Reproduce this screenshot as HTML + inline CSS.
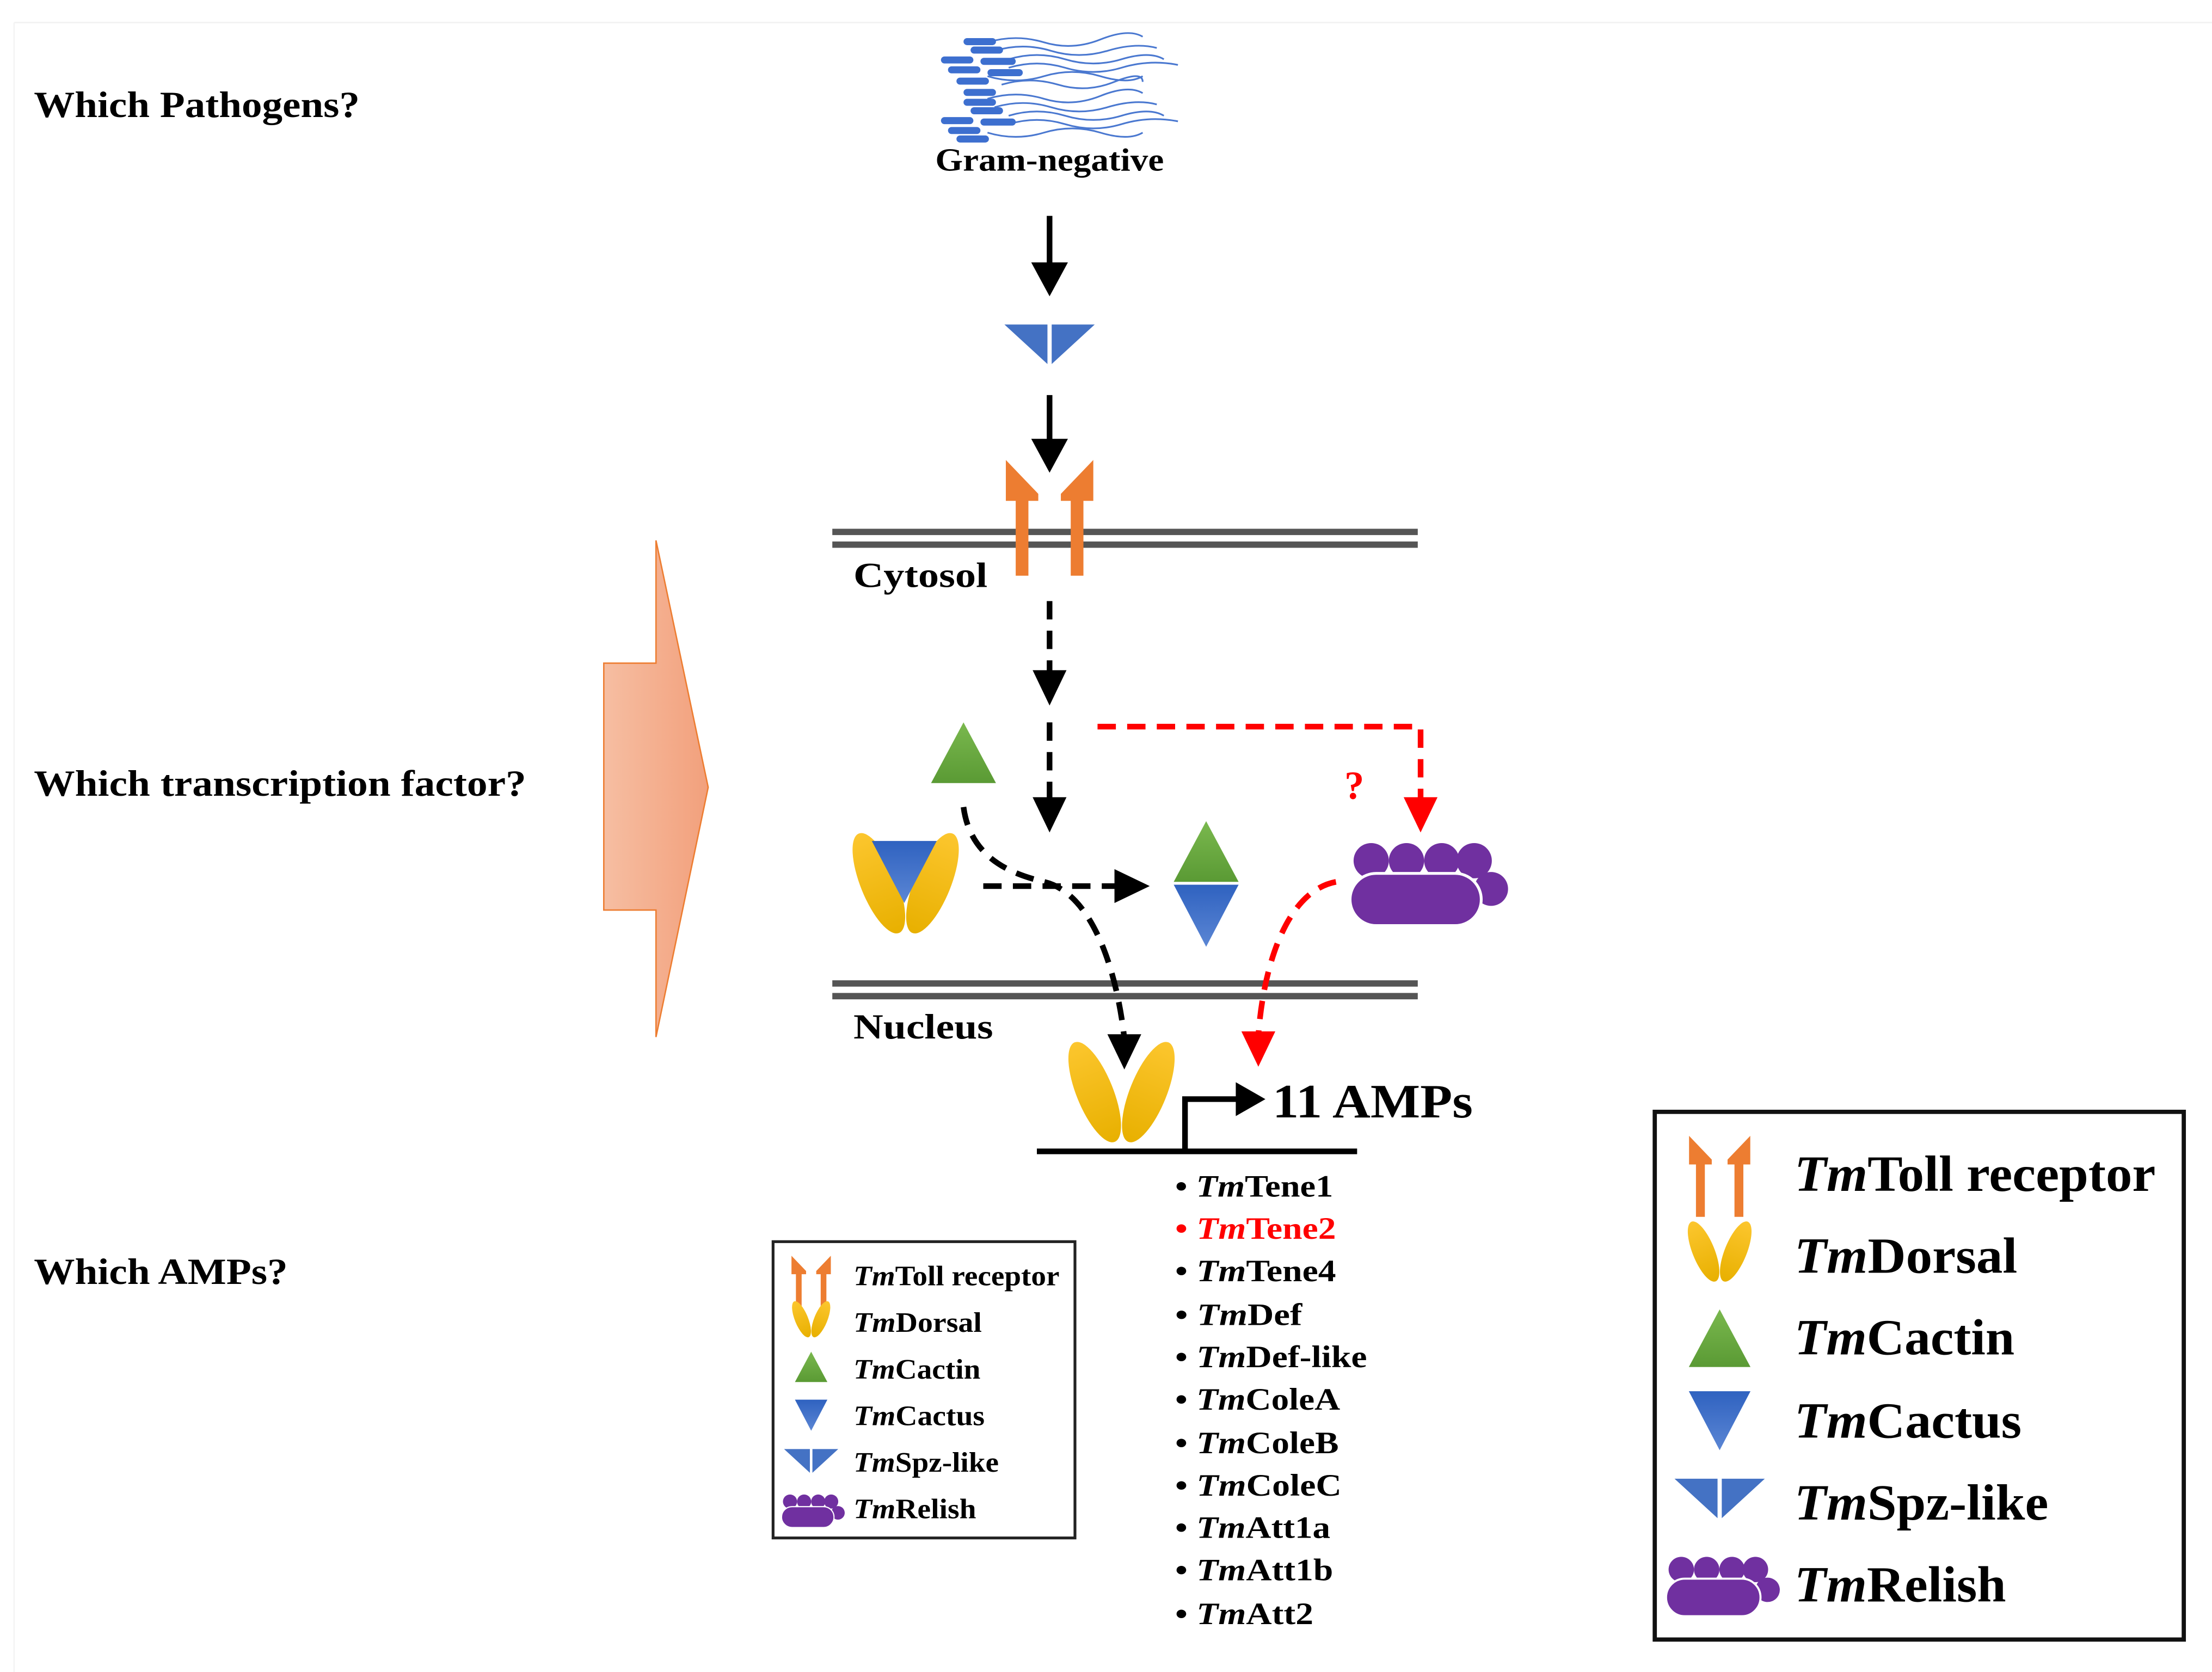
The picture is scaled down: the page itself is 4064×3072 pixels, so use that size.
<!DOCTYPE html>
<html><head><meta charset="utf-8"><style>html,body{margin:0;padding:0;background:#fff}svg{display:block}</style></head>
<body>
<svg xmlns="http://www.w3.org/2000/svg" width="4064" height="3072" viewBox="0 0 1568 1185" preserveAspectRatio="none" font-family="'Liberation Serif', serif" font-weight="bold">
<defs>
<linearGradient id="gG" x1="0" y1="0" x2="0" y2="1"><stop offset="0" stop-color="#7ab84e"/><stop offset="1" stop-color="#5a9a34"/></linearGradient>
<linearGradient id="gB" x1="0" y1="0" x2="0" y2="1"><stop offset="0" stop-color="#2f62c0"/><stop offset="1" stop-color="#5b86d4"/></linearGradient>
<linearGradient id="gY" x1="0" y1="0" x2="0" y2="1"><stop offset="0" stop-color="#fcc62e"/><stop offset="1" stop-color="#e8b000"/></linearGradient>
<linearGradient id="gO" x1="0" y1="0" x2="1" y2="0"><stop offset="0" stop-color="#f6bea2"/><stop offset="1" stop-color="#f2a07c"/></linearGradient>
<g id="toll" fill="#ed7d31">
<polygon points="-31,0 -8,24 -8,29 -15,29 -15,82 -24,82 -24,29 -31,29"/>
<polygon points="31,0 8,24 8,29 15,29 15,82 24,82 24,29 31,29"/>
</g>
<g id="spz" fill="#4472c4">
<polygon points="-32,0 -1.5,0 -1.5,28"/><polygon points="1.5,0 32,0 1.5,28"/>
</g>
<polygon id="cactin" points="0,0 23,43 -23,43" fill="url(#gG)"/>
<polygon id="cactus" points="-23,0 23,0 0,44" fill="url(#gB)"/>
<g id="dorsal" fill="url(#gY)">
<ellipse cx="-19" cy="0" rx="13" ry="38" transform="rotate(-22 -19 0)"/>
<ellipse cx="19" cy="0" rx="13" ry="38" transform="rotate(22 19 0)"/>
</g>
<g id="relish" fill="#7030a0">
<circle cx="15" cy="13" r="12.5"/><circle cx="40" cy="13" r="12.5"/><circle cx="65" cy="13" r="12.5"/><circle cx="88" cy="13" r="12.5"/>
<circle cx="100" cy="33" r="12"/>
<rect x="0" y="22" width="93" height="37" rx="18.5" stroke="#fff" stroke-width="2"/>
</g>
</defs>

<line x1="10" y1="16" x2="1568" y2="16" stroke="#f2f2f2" stroke-width="1"/>
<line x1="10" y1="16" x2="10" y2="1185" stroke="#f4f4f4" stroke-width="1"/>

<text x="24" y="83" font-size="26" textLength="231" lengthAdjust="spacingAndGlyphs">Which Pathogens?</text>
<text x="24" y="564" font-size="26" textLength="349" lengthAdjust="spacingAndGlyphs">Which transcription factor?</text>
<text x="24" y="910" font-size="26" textLength="180" lengthAdjust="spacingAndGlyphs">Which AMPs?</text>

<polygon points="428,470 465,470 465,383 502,558 465,735 465,645 428,645" fill="url(#gO)" stroke="#ed7d31" stroke-width="1"/>

<g fill="none" stroke="#4a78d0" stroke-width="1.2">
<path d="M700,30 q20,-6 40,0 t40,-2 t30,-2"/><path d="M705,36 q20,-6 40,0 t40,0 t35,-2"/>
<path d="M715,42 q20,-6 40,0 t40,0 t30,0"/><path d="M715,48 q20,-6 40,0 t40,0 t40,-2"/>
<path d="M700,54 q20,6 40,0 t40,0 t30,0"/><path d="M710,60 q20,-6 40,0 t40,-2 t20,0"/>
<path d="M700,70 q20,-6 40,0 t40,-2 t30,-2"/><path d="M705,76 q20,-6 40,0 t40,0 t35,-2"/>
<path d="M715,82 q20,-6 40,0 t40,0 t30,0"/><path d="M715,88 q20,-6 40,0 t40,0 t40,-2"/>
<path d="M700,94 q20,6 40,0 t40,0 t30,0"/>
</g>
<g fill="#3d6fcf">
<rect x="683" y="27" width="23" height="5" rx="2.5"/><rect x="688" y="33" width="23" height="5" rx="2.5"/>
<rect x="667" y="40" width="23" height="5" rx="2.5"/><rect x="695" y="41" width="25" height="5" rx="2.5"/>
<rect x="672" y="47" width="23" height="5" rx="2.5"/><rect x="700" y="49" width="25" height="5" rx="2.5"/>
<rect x="678" y="55" width="23" height="5" rx="2.5"/><rect x="683" y="63" width="23" height="5" rx="2.5"/>
<rect x="683" y="70" width="23" height="5" rx="2.5"/><rect x="688" y="76" width="23" height="5" rx="2.5"/>
<rect x="667" y="83" width="23" height="5" rx="2.5"/><rect x="695" y="84" width="25" height="5" rx="2.5"/>
<rect x="672" y="90" width="23" height="5" rx="2.5"/><rect x="678" y="96" width="23" height="5" rx="2.5"/>
</g>
<text x="744" y="121" font-size="23" text-anchor="middle" textLength="162" lengthAdjust="spacingAndGlyphs">Gram-negative</text>

<line x1="744" y1="153" x2="744" y2="188" stroke="#000" stroke-width="4"/>
<polygon points="731,186 757,186 744,210" fill="#000"/>
<use href="#spz" x="744" y="230"/>
<line x1="744" y1="280" x2="744" y2="313" stroke="#000" stroke-width="4"/>
<polygon points="731,311 757,311 744,335" fill="#000"/>

<g stroke="#555" stroke-width="4.5">
<line x1="590" y1="377" x2="1005" y2="377"/><line x1="590" y1="386" x2="1005" y2="386"/>
<line x1="590" y1="697" x2="1005" y2="697"/><line x1="590" y1="706" x2="1005" y2="706"/>
</g>
<use href="#toll" x="744" y="326"/>
<text x="605" y="416" font-size="25" textLength="95" lengthAdjust="spacingAndGlyphs">Cytosol</text>
<text x="605" y="736" font-size="25" textLength="99" lengthAdjust="spacingAndGlyphs">Nucleus</text>

<g stroke="#000" stroke-width="4" stroke-dasharray="13,8" fill="none">
<line x1="744" y1="426" x2="744" y2="478"/>
<line x1="744" y1="512" x2="744" y2="568"/>
<line x1="697" y1="628" x2="792" y2="628"/>
<path d="M683,572 C688,610 720,620 740,625 C775,633 792,690 797,736"/>
</g>
<polygon points="732,475 756,475 744,500" fill="#000"/>
<polygon points="732,565 756,565 744,590" fill="#000"/>
<polygon points="790,616 815,628 790,640" fill="#000"/>
<polygon points="785,733 809,733 797,758" fill="#000"/>

<g stroke="#ff0000" stroke-width="4" stroke-dasharray="13,8" fill="none">
<path d="M778,515 H1007 V568"/>
<path d="M947,625 C910,632 895,690 892,734"/>
</g>
<polygon points="995,565 1019,565 1007,590" fill="#ff0000"/>
<polygon points="880,731 904,731 892,756" fill="#ff0000"/>
<text x="960" y="566" font-size="28" fill="#ff0000" text-anchor="middle">?</text>

<use href="#cactin" x="683" y="512"/>
<use href="#dorsal" x="642" y="626"/>
<use href="#cactus" x="641" y="596"/>
<use href="#cactin" x="855" y="582"/>
<use href="#cactus" x="855" y="627"/>
<use href="#relish" x="957" y="597"/>
<use href="#dorsal" x="795" y="774"/>

<line x1="735" y1="816" x2="962" y2="816" stroke="#000" stroke-width="4"/>
<polyline points="840,816 840,779 880,779" fill="none" stroke="#000" stroke-width="4"/>
<polygon points="876,767 897,779 876,791" fill="#000"/>
<text x="902" y="792" font-size="34" textLength="142" lengthAdjust="spacingAndGlyphs">11 AMPs</text>

<g font-size="22">
<text x="833" y="848" textLength="112" lengthAdjust="spacingAndGlyphs">• <tspan font-style="italic">Tm</tspan>Tene1</text>
<text x="833" y="878" fill="#ff0000" textLength="114" lengthAdjust="spacingAndGlyphs">• <tspan font-style="italic">Tm</tspan>Tene2</text>
<text x="833" y="908" textLength="114" lengthAdjust="spacingAndGlyphs">• <tspan font-style="italic">Tm</tspan>Tene4</text>
<text x="833" y="939" textLength="90" lengthAdjust="spacingAndGlyphs">• <tspan font-style="italic">Tm</tspan>Def</text>
<text x="833" y="969" textLength="136" lengthAdjust="spacingAndGlyphs">• <tspan font-style="italic">Tm</tspan>Def-like</text>
<text x="833" y="999" textLength="117" lengthAdjust="spacingAndGlyphs">• <tspan font-style="italic">Tm</tspan>ColeA</text>
<text x="833" y="1030" textLength="116" lengthAdjust="spacingAndGlyphs">• <tspan font-style="italic">Tm</tspan>ColeB</text>
<text x="833" y="1060" textLength="118" lengthAdjust="spacingAndGlyphs">• <tspan font-style="italic">Tm</tspan>ColeC</text>
<text x="833" y="1090" textLength="110" lengthAdjust="spacingAndGlyphs">• <tspan font-style="italic">Tm</tspan>Att1a</text>
<text x="833" y="1120" textLength="112" lengthAdjust="spacingAndGlyphs">• <tspan font-style="italic">Tm</tspan>Att1b</text>
<text x="833" y="1151" textLength="98" lengthAdjust="spacingAndGlyphs">• <tspan font-style="italic">Tm</tspan>Att2</text>
</g>

<rect x="548" y="880" width="214" height="210" fill="none" stroke="#222" stroke-width="2"/>
<use href="#toll" transform="translate(575,890) scale(0.45)"/>
<use href="#dorsal" transform="translate(575,935) scale(0.36)"/>
<use href="#cactin" transform="translate(575,958) scale(0.5)"/>
<use href="#cactus" transform="translate(575,992) scale(0.5)"/>
<use href="#spz" transform="translate(575,1027) scale(0.6)"/>
<use href="#relish" transform="translate(554,1059) scale(0.4)"/>
<g font-size="20">
<text x="605" y="911" textLength="146" lengthAdjust="spacingAndGlyphs"><tspan font-style="italic">Tm</tspan>Toll receptor</text>
<text x="605" y="944" textLength="91" lengthAdjust="spacingAndGlyphs"><tspan font-style="italic">Tm</tspan>Dorsal</text>
<text x="605" y="977" textLength="90" lengthAdjust="spacingAndGlyphs"><tspan font-style="italic">Tm</tspan>Cactin</text>
<text x="605" y="1010" textLength="93" lengthAdjust="spacingAndGlyphs"><tspan font-style="italic">Tm</tspan>Cactus</text>
<text x="605" y="1043" textLength="103" lengthAdjust="spacingAndGlyphs"><tspan font-style="italic">Tm</tspan>Spz-like</text>
<text x="605" y="1076" textLength="87" lengthAdjust="spacingAndGlyphs"><tspan font-style="italic">Tm</tspan>Relish</text>
</g>

<rect x="1173" y="788" width="375" height="374" fill="none" stroke="#111" stroke-width="3"/>
<use href="#toll" transform="translate(1219,805) scale(0.7)"/>
<use href="#dorsal" transform="translate(1219,887) scale(0.6)"/>
<use href="#cactin" transform="translate(1219,928) scale(0.95)"/>
<use href="#cactus" transform="translate(1219,986) scale(0.95)"/>
<use href="#spz" transform="translate(1219,1048) scale(1.0)"/>
<use href="#relish" transform="translate(1181,1103) scale(0.72)"/>
<g font-size="36">
<text x="1272" y="844" textLength="256" lengthAdjust="spacingAndGlyphs"><tspan font-style="italic">Tm</tspan>Toll receptor</text>
<text x="1272" y="902" textLength="158" lengthAdjust="spacingAndGlyphs"><tspan font-style="italic">Tm</tspan>Dorsal</text>
<text x="1272" y="960" textLength="156" lengthAdjust="spacingAndGlyphs"><tspan font-style="italic">Tm</tspan>Cactin</text>
<text x="1272" y="1019" textLength="161" lengthAdjust="spacingAndGlyphs"><tspan font-style="italic">Tm</tspan>Cactus</text>
<text x="1272" y="1077" textLength="180" lengthAdjust="spacingAndGlyphs"><tspan font-style="italic">Tm</tspan>Spz-like</text>
<text x="1272" y="1135" textLength="150" lengthAdjust="spacingAndGlyphs"><tspan font-style="italic">Tm</tspan>Relish</text>
</g>
</svg>
</body></html>
